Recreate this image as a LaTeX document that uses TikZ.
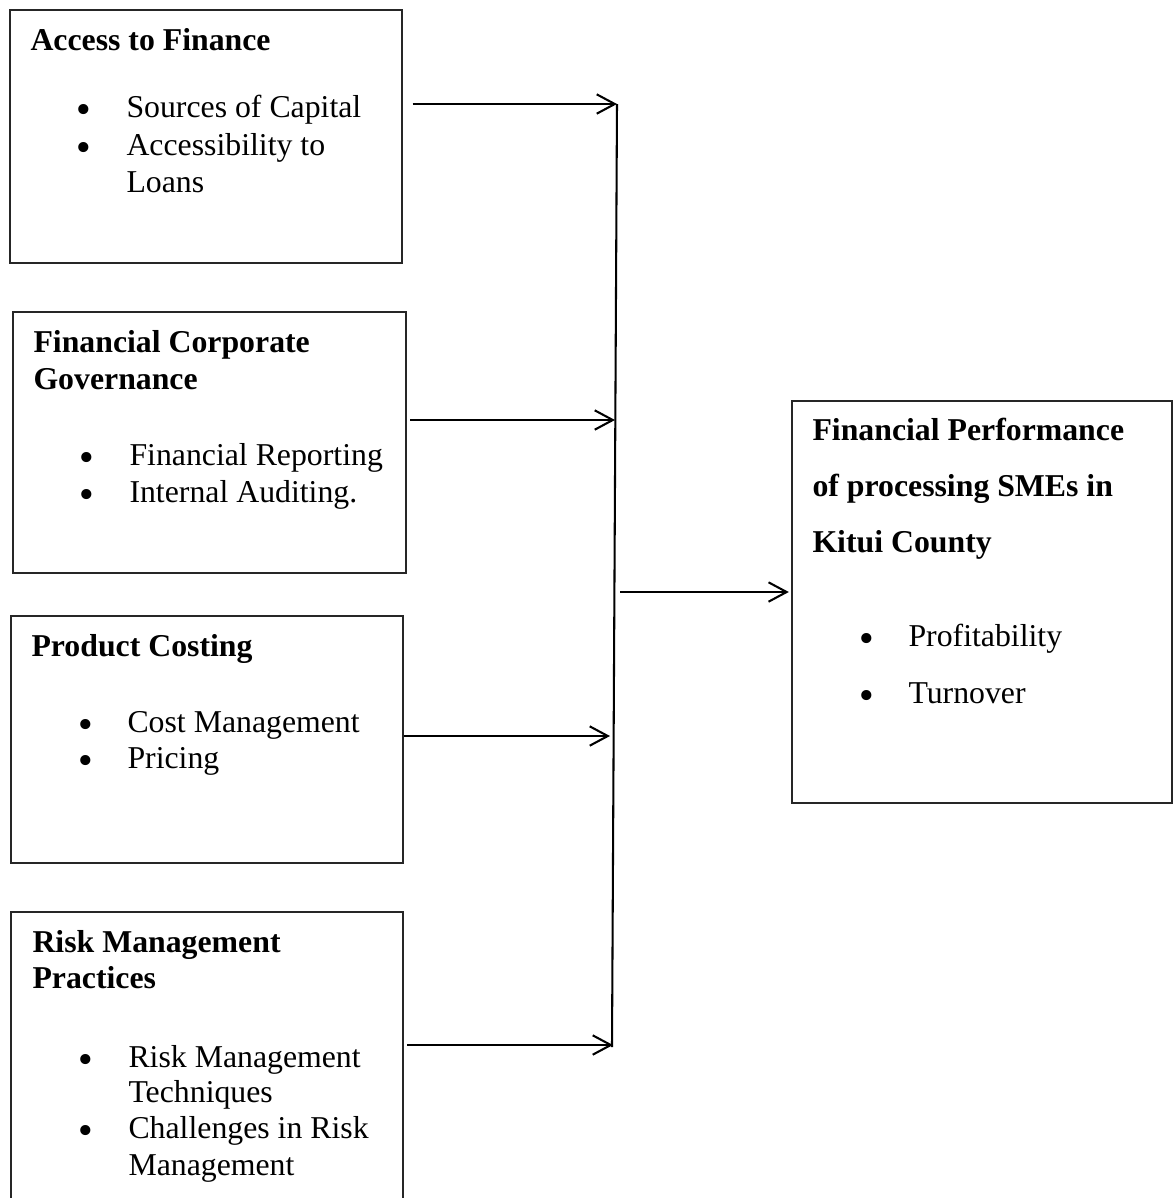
\documentclass[tikz,border=0pt]{standalone}
\usepackage{fontspec}
\setmainfont{Liberation Serif}
\newfontfamily\dotfont{DejaVu Sans}
\usetikzlibrary{arrows.meta,fit}

\begin{document}
\begin{tikzpicture}[x=0.387pt,y=-0.387pt,
  box/.style={draw=black!85,line width=0.45pt,inner sep=0pt},
  head/.style={anchor=base west,inner sep=0pt,font=\fontsize{12.3}{14}\selectfont\bfseries},
  item/.style={anchor=base west,inner sep=0pt,font=\fontsize{12.3}{14}\selectfont},
  dot/.style={anchor=base,inner sep=0pt,font=\fontsize{13.5}{14}\selectfont\dotfont},
  feed/.style={line width=0.8pt,-{Straight Barb[length=7pt,width=7.5pt]}}]
  \clip (0,0) rectangle (1174,1198);
  \fill[white] (0,0) rectangle (1174,1198);

  \node[box,fit={(10,10) (402,263)}]    (finance) {};
  \node[box,fit={(13,312) (406,573)}]   (gov)     {};
  \node[box,fit={(11,616) (403,863)}]   (costing) {};
  \node[box,fit={(11,912) (403,1240)}]  (risk)    {};
  \node[box,fit={(792,401) (1172,803)}] (perf)    {};

  \node[head] (finance-h)  at (30,50)   {Access to Finance};
  \node[dot]  (finance-d1) at (84,122)  {•};
  \node[item] (finance-1)  at (126,117) {Sources of Capital};
  \node[dot]  (finance-d2) at (84,160)  {•};
  \node[item] (finance-2)  at (126,155) {Accessibility to};
  \node[item] (finance-2b) at (126,192) {Loans};

  \node[head] (gov-h)  at (33,352)  {Financial Corporate};
  \node[head] (gov-hb) at (33,389)  {Governance};
  \node[dot]  (gov-d1) at (87,470)  {•};
  \node[item] (gov-1)  at (129,465) {Financial Reporting};
  \node[dot]  (gov-d2) at (87,507)  {•};
  \node[item] (gov-2)  at (129,502) {Internal Auditing.};

  \node[head] (costing-h)  at (31,656)  {Product Costing};
  \node[dot]  (costing-d1) at (86,737)  {•};
  \node[item] (costing-1)  at (127,732) {Cost Management};
  \node[dot]  (costing-d2) at (86,773)  {•};
  \node[item] (costing-2)  at (127,768) {Pricing};

  \node[head] (risk-h)  at (32,952)   {Risk Management};
  \node[head] (risk-hb) at (32,988)   {Practices};
  \node[dot]  (risk-d1) at (86,1072)  {•};
  \node[item] (risk-1)  at (128,1067) {Risk Management};
  \node[item] (risk-1b) at (128,1102) {Techniques};
  \node[dot]  (risk-d2) at (86,1143)  {•};
  \node[item] (risk-2)  at (128,1138) {Challenges in Risk};
  \node[item] (risk-2b) at (128,1175) {Management};

  \node[head] (perf-h)  at (812,440) {Financial Performance};
  \node[head] (perf-hb) at (812,496) {of processing SMEs in};
  \node[head] (perf-hc) at (812,552) {Kitui County};
  \node[dot]  (perf-d1) at (867,651) {•};
  \node[item] (perf-1)  at (908,646) {Profitability};
  \node[dot]  (perf-d2) at (867,708) {•};
  \node[item] (perf-2)  at (908,703) {Turnover};

  \coordinate (top)    at (617,104);
  \coordinate (bottom) at (612,1047);
  \coordinate (j1)     at (617,104);
  \coordinate (j2)     at (615,420);
  \coordinate (j3)     at (610,736);
  \coordinate (j4)     at (613,1045);
  \coordinate (hub)    at (620,592);

  \draw[line width=0.8pt] (top) -- (bottom);
  \draw[feed,shorten <=3.9pt] (finance.east |- j1) -- (j1);
  \draw[feed,shorten <=1.5pt] (gov.east |- j2) -- (j2);
  \draw[feed] (costing.east |- j3) -- (j3);
  \draw[feed,shorten <=1.5pt] (risk.east |- j4) -- (j4);
  \draw[feed,shorten >=1pt] (hub) -- (perf.west |- hub);
\end{tikzpicture}
\end{document}
